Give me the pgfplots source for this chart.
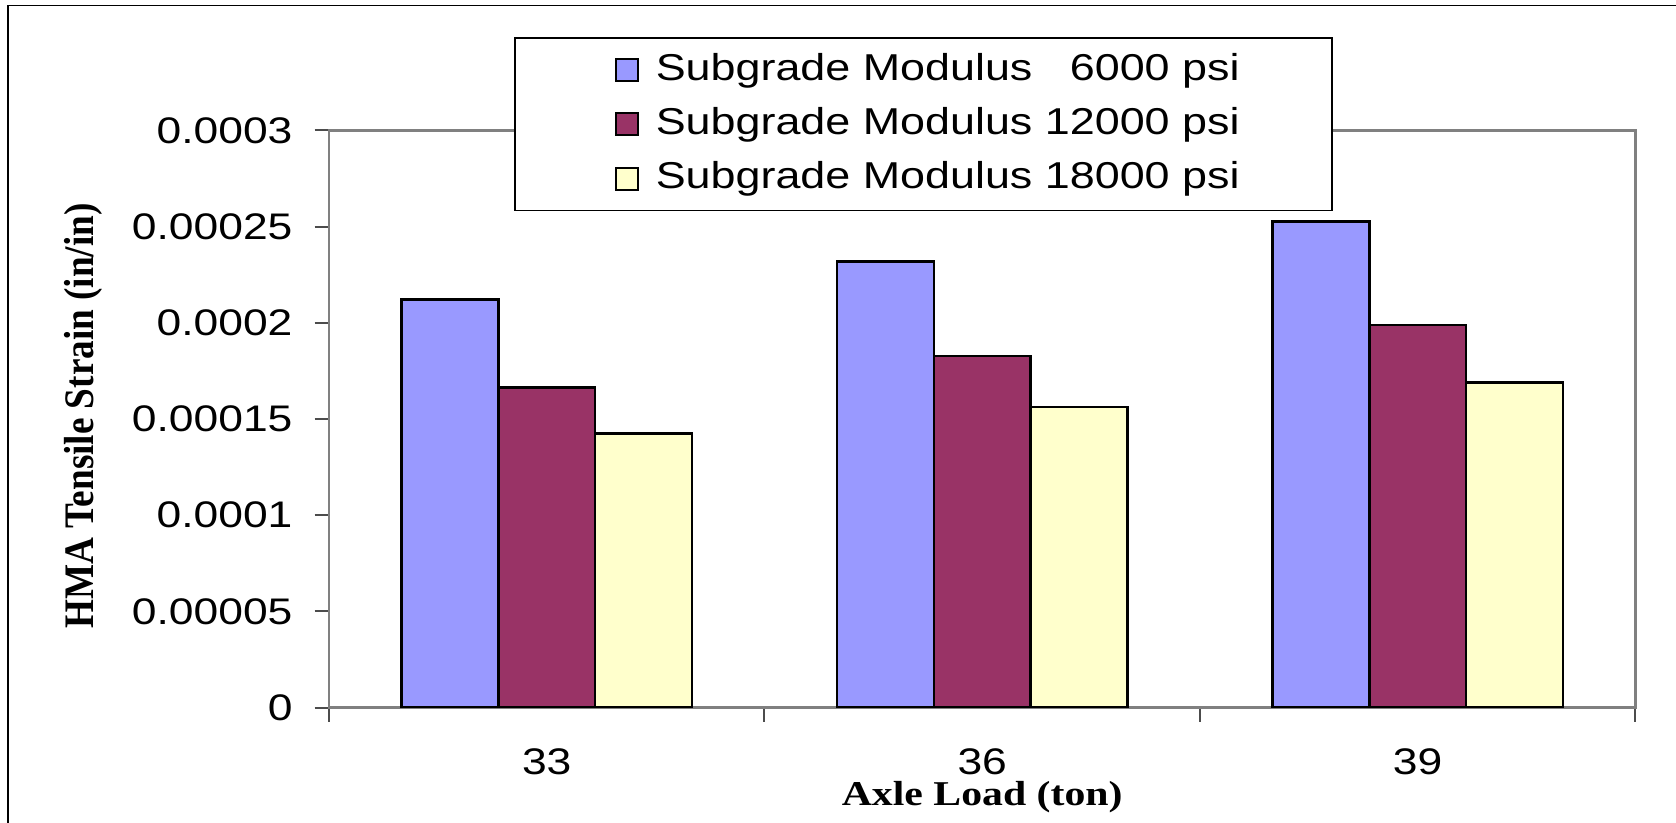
\documentclass[border=0pt]{standalone}
\usepackage{fontspec}
\setmainfont{Liberation Sans}[FakeStretch=1.2]
\newfontfamily\lblfont{Liberation Serif}[FakeStretch=1.2]
\newfontfamily\ylblfont{Liberation Serif}
\usepackage{graphicx}
\usepackage{pgfplots}
\pgfplotsset{compat=1.18}
\definecolor{cblue}{RGB}{153,153,255}
\definecolor{cred}{RGB}{153,51,102}
\definecolor{cyel}{RGB}{255,255,204}
\definecolor{framegray}{RGB}{128,128,128}
\begin{document}
\begin{tikzpicture}
\useasboundingbox (-82.25pt,-28.6pt) rectangle (336.75pt,176.9pt);
\begin{axis}[
  at={(0pt,0pt)}, anchor=south west,
  width=326.6pt, height=144.3pt, scale only axis,
  ymin=0, ymax=0.0003, xmin=-0.5, xmax=2.5,
  ytick={0,0.00005,0.0001,0.00015,0.0002,0.00025,0.0003},
  yticklabels={0,0.00005,0.0001,0.00015,0.0002,0.00025,0.0003},
  scaled y ticks=false,
  /pgf/number format/assume math mode=true,
  xtick={-0.5,0.5,1.5,2.5}, xticklabels={},
  extra x ticks={0,1,2}, extra x tick labels={33,36,39},
  extra x tick style={major tick length=0pt, tick style={draw=none},
     xticklabel style={yshift=-6.8pt}},
  xtick pos=bottom, ytick pos=left,
  tick align=outside, major tick length=3.6pt,
  tick style={draw=black!70, line width=0.5pt},
  axis line style={draw=framegray, line width=0.6pt},
  tick label style={font=\fontsize{9.25}{11}\selectfont},
  yticklabel style={xshift=-2pt},
  ybar, bar width=0.2222,
  xlabel={\lblfont\bfseries Axle Load (ton)},
  xlabel style={at={(axis description cs:0.5,0)}, anchor=base, yshift=-24.35pt, font=\fontsize{8.7}{10}\selectfont},
  ylabel={\scalebox{1}[1.13]{\ylblfont\bfseries HMA Tensile Strain (in/in)}},
  ylabel style={at={(axis description cs:-0.1799,0.505)}, anchor=base, font=\fontsize{9.3}{11}\selectfont},
  legend style={at={(axis description cs:0.1416,1.1611)}, anchor=north west,
     draw=black, line width=0.4pt, fill=white,
     inner xsep=25pt, inner ysep=3.45pt, row sep=4.6pt, column sep=2.25pt,
     font=\fontsize{9.35}{11}\selectfont,
     nodes={inner ysep=0pt, inner xsep=2pt, text height=7pt, text depth=2pt},
     cells={anchor=west}},
  legend image code/.code={\draw[#1, line width=0.5pt] (0pt,-2.75pt) rectangle (5.5pt,2.75pt);},
]
\addplot[draw=black, fill=cblue, line width=0.65pt, bar shift=-0.2222]
  coordinates {(0,0.000212) (1,0.000232) (2,0.0002525)};
\addplot[draw=black, fill=cred, line width=0.65pt, bar shift=0]
  coordinates {(0,0.0001665) (1,0.0001827) (2,0.0001988)};
\addplot[draw=black, fill=cyel, line width=0.65pt, bar shift=0.2222]
  coordinates {(0,0.0001425) (1,0.0001562) (2,0.000169)};
\legend{\makebox[142pt][l]{Subgrade Modulus \phantom{1}6000 psi},
        \makebox[142pt][l]{Subgrade Modulus 12000 psi},
        \makebox[142pt][l]{Subgrade Modulus 18000 psi}}
\end{axis}
\draw[line width=0.35pt, black] (-80.25pt,-30pt) -- (-80.25pt,175.5pt) -- (340pt,175.5pt);
\end{tikzpicture}
\end{document}
